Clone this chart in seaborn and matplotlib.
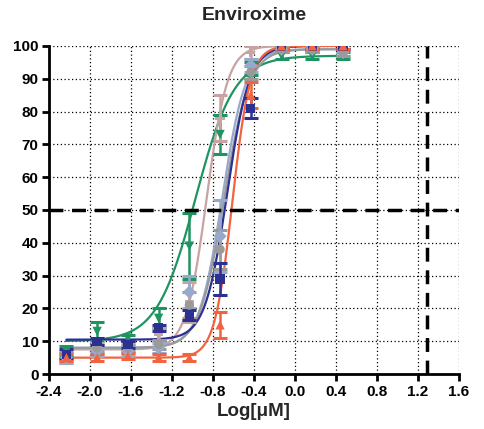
import numpy as np
import pandas as pd
import seaborn as sns
import matplotlib
matplotlib.use("Agg")
import matplotlib.pyplot as plt

# ---- data ----
log_conc = [-2.23, -1.93, -1.63, -1.33, -1.03, -0.73, -0.43, -0.13, 0.17, 0.47]

series_names = ["Green", "Pink", "LightBlue", "Gray", "Navy", "Orange"]
series_colors = ["#1e9460", "#c9a3a3", "#98aacb", "#9a9a9a", "#2b3091", "#f26440"]
series_markers = ["v", "P", "D", "o", "s", "^"]

green_mean = [7, 13, 11, 17, 39, 73, 93, 97, 97, 97]
green_err = [1.5, 3, 1, 3, 10, 6, 2, 1, 1, 1]
pink_mean = [5, 8, 8, 12, 22, 78, 98, 100, 100, 100]
pink_err = [1.5, 1.5, 1.5, 2, 6, 7, 2, 1, 1, 1]
lightblue_mean = [5, 7, 7, 8, 25, 42, 94, 99, 99, 98]
lightblue_err = [1.5, 1.5, 1.5, 1.5, 5, 11, 2, 1, 1, 1]
gray_mean = [6, 8, 8, 9, 21, 38, 92, 99, 99, 98]
gray_err = [1, 1, 1, 1.5, 4, 6, 2, 1, 1, 1]
navy_mean = [6, 10, 9, 14, 18, 29, 81, 100, 100, 100]
navy_err = [1.5, 1, 1, 1, 1.5, 5, 3, 1, 1, 1]
orange_mean = [5, 5, 5.5, 5, 5, 15, 85, 100, 100, 100]
orange_err = [1, 1, 1, 1, 1, 4, 4, 1, 1, 1]

means = [green_mean, pink_mean, lightblue_mean, gray_mean, navy_mean, orange_mean]
errs = [green_err, pink_err, lightblue_err, gray_err, navy_err, orange_err]

# 4-parameter logistic fit parameters: bottom, top, logIC50, hill
fit_bottom = [10, 7.5, 8, 8, 10.5, 5]
fit_top = [97, 100, 99, 99, 100, 100]
fit_logic50 = [-0.97, -0.86, -0.71, -0.69, -0.66, -0.61]
fit_hill = [2.3, 4.3, 3.8, 3.6, 4.0, 5.0]

ref_y = 50
ref_x = 1.29

x_ticks = [-2.4, -2.0, -1.6, -1.2, -0.8, -0.4, 0.0, 0.4, 0.8, 1.2, 1.6]
y_ticks = list(range(0, 101, 10))

# ---- plot ----
sns.set_theme(style="white")
plt.rcParams['font.family'] = ['Liberation Sans', 'DejaVu Sans']

fig = plt.figure(figsize=(4.85, 4.29), dpi=100)
ax = fig.add_axes([0.101, 0.128, 0.845, 0.765])

rows = []
xs = np.linspace(-2.23, 0.47, 300)
curve_rows = []
for name, m, e, b, t, ic, h in zip(series_names, means, errs, fit_bottom, fit_top, fit_logic50, fit_hill):
    for xv, mv, ev in zip(log_conc, m, e):
        rows.append(dict(series=name, x=xv, y=mv, err=ev))
    ys = b + (t - b) / (1 + 10 ** ((ic - xs) * h))
    for xv, yv in zip(xs, ys):
        curve_rows.append(dict(series=name, x=xv, y=yv))
df = pd.DataFrame(rows)
cdf = pd.DataFrame(curve_rows)
palette = dict(zip(series_names, series_colors))

sns.lineplot(data=cdf, x="x", y="y", hue="series", palette=palette, ax=ax,
             legend=False, linewidth=1.6, zorder=3)
for name, col, mk in zip(series_names, series_colors, series_markers):
    sub = df[df.series == name]
    ax.errorbar(sub.x, sub.y, yerr=sub.err, fmt="none", ecolor=col,
                elinewidth=1.8, capsize=5, capthick=2.2, zorder=4)
sns.scatterplot(data=df, x="x", y="y", hue="series", style="series",
                markers=dict(zip(series_names, series_markers)),
                palette=palette, ax=ax, legend=False, s=45, linewidth=0, zorder=5)

ax.axhline(ref_y, color="black", lw=2.5, ls=(0, (4, 2.5)), zorder=6)
ax.axvline(ref_x, color="black", lw=2.5, ls=(0, (4, 2.5)), zorder=6)

ax.set_xlim(-2.4, 1.6)
ax.set_ylim(0, 100)
ax.set_xticks(x_ticks)
ax.set_xticklabels([f"{v:.1f}" for v in x_ticks])
ax.set_yticks(y_ticks)
ax.grid(True, color="black", ls=(0, (1, 2)), lw=0.9)
ax.set_axisbelow(True)
for s in ["top", "right"]:
    ax.spines[s].set_visible(False)
for s in ["left", "bottom"]:
    ax.spines[s].set_color("black")
    ax.spines[s].set_linewidth(2.0)
ax.tick_params(axis="both", direction="out", length=5, width=2, colors="black",
               labelsize=11, bottom=True, left=True, pad=2.5)
for lab in ax.get_xticklabels() + ax.get_yticklabels():
    lab.set_fontweight("bold")
ax.set_xlabel("Log[μM]", fontsize=13.5, fontweight="bold", labelpad=3)
ax.set_ylabel("")
ax.set_title("Enviroxime", fontsize=14, fontweight="bold", pad=19)

fig.savefig("out.png", dpi=100)
